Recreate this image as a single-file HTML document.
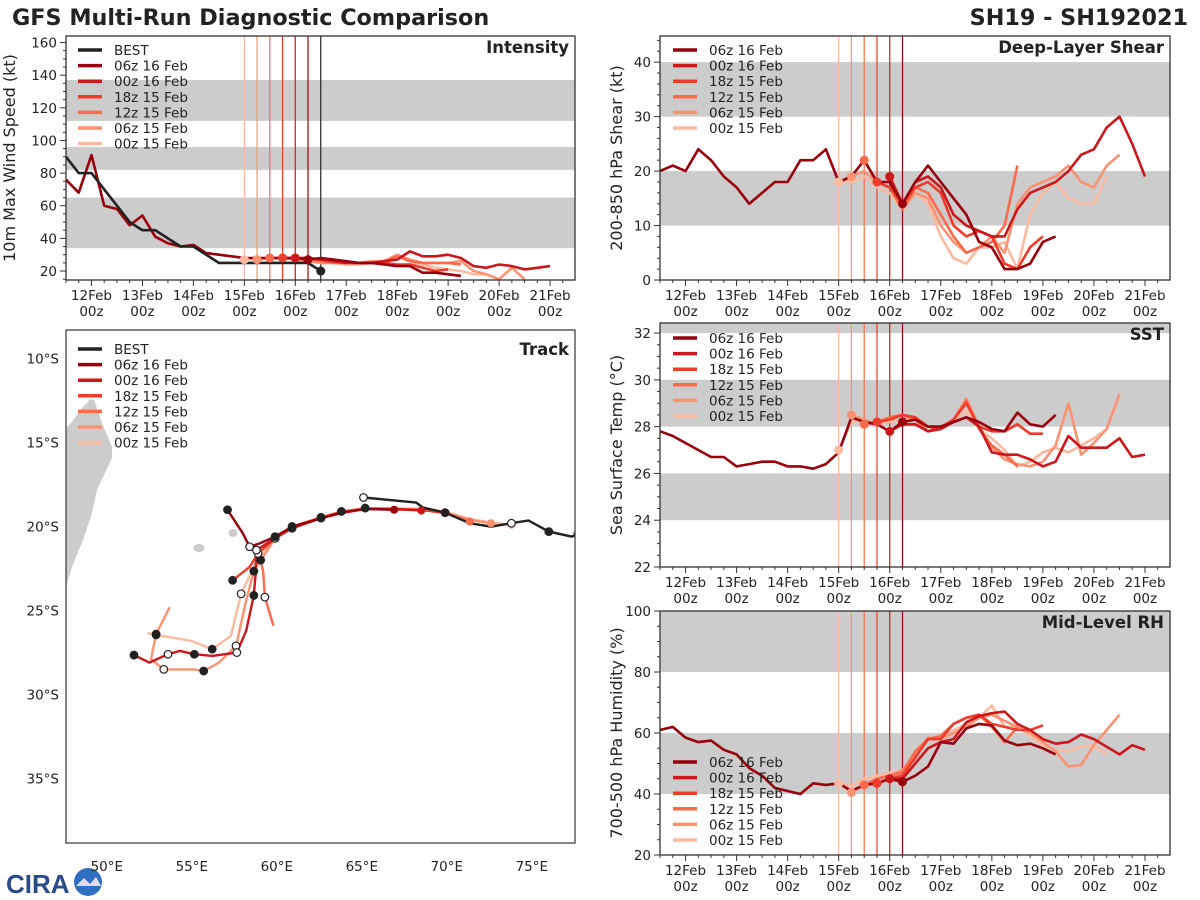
<!DOCTYPE html>
<html><head><meta charset="utf-8">
<style>
html,body{margin:0;padding:0;background:#fff;}
svg{display:block;font-family:"DejaVu Sans","Liberation Sans",sans-serif;}
</style></head>
<body>
<svg id="chart" width="1200" height="900" viewBox="0 0 1200 900" xmlns="http://www.w3.org/2000/svg">
<text x="12" y="25" font-size="22.3" font-weight="bold" fill="#222">GFS Multi-Run Diagnostic Comparison</text>
<text x="1188" y="25" font-size="22.3" font-weight="bold" fill="#222" text-anchor="end">SH19 - SH192021</text>
<g>
<text x="6" y="893" font-size="26" font-weight="bold" fill="#2a4a8a" font-family="Liberation Sans, sans-serif">CIRA</text>
<circle cx="88" cy="882" r="14" fill="#2f6fc0"/>
<path d="M76 886 L84 878 L90 884 L96 877 L101 886 Z" fill="#dde"/>
</g>
</svg>
<script>
// ---------- time-series data (t0 = day-of-Feb, values every 6 h) ----------
const runNames = ["06z 16 Feb","00z 16 Feb","18z 15 Feb","12z 15 Feb","06z 15 Feb","00z 15 Feb"];
const runInit = [16.25,16.0,15.75,15.5,15.25,15.0];
const runStart = [11.5,16.0,15.75,15.5,15.25,15.0];
const runColors = ["#99000d","#cb181d","#ef3b2c","#fb6a4a","#fc9272","#fcbba1"];

const bestStart = 11.5;
const bestWind = [90,80,80,70,60,50,45,45,40,35,35,30,25,25,25,25,25,25,25,25,20];
const windRun0 = [76,68,91,60,58,48,54,41,37,35,36,31,30,29,28,28,28,28,28,27,28,27,26,25,25,24,23,23,19,19,18,17];
const windRun1 = [28,28,27,26,25,25,25,26,27,32,29,29,30,28,23,22,24,23,21,22,23];
const windRun2 = [28,28,28,27,26,25,25,25,25,24,24,22,20,21];
const windRun3 = [28,28,28,27,26,25,25,25,25,26,29,26,25,25,25,24];
const windRun4 = [27,28,28,27,26,25,25,25,25,26,26,30,27,25,25,25,26,20,18,15,22,15];
const windRun5 = [27,28,28,28,27,26,25,25,24,24,25,25,24,24,24,22,21,20,18,18,15];

const shearRun0 = [20,21,20,24,22,19,17,14,16,18,18,22,22,24,18,19,22,18,18,14,18,21,18,15,12,7,6,2,2,3,7,8];
const shearRun1 = [19,14,18,19,17,12,10,9,8,8,13,16,17,18,20,23,24,28,30,25,19];
const shearRun2 = [18,17,14,17,18,16,10,8,9,8,3,2,6,8];
const shearRun3 = [22,18,17,13,17,16,12,8,5,6,7,10,21];
const shearRun4 = [19,20,18,17,13,16,15,10,7,5,6,8,5,14,17,18,19,21,18,17,21,23];
const shearRun5 = [18,18,19,17,16,13,16,14,8,4,3,6,6,7,2,12,16,18,15,14,14,19];

const sstRun0 = [27.8,27.6,27.3,27.0,26.7,26.7,26.3,26.4,26.5,26.5,26.3,26.3,26.2,26.4,26.9,28.4,28.2,28.1,27.8,28.2,28.3,28.0,28.0,28.2,28.4,28.2,27.9,27.8,28.6,28.1,28.0,28.5];
const sstRun1 = [27.8,28.1,28.1,27.8,27.9,28.2,28.4,28.0,26.9,26.8,26.8,26.6,26.3,26.5,27.6,27.1,27.1,27.1,27.5,26.7,26.8];
const sstRun2 = [28.2,28.3,28.5,28.4,28.0,27.9,28.3,29.0,28.0,27.8,27.8,28.1,27.7,27.7];
const sstRun3 = [28.1,28.2,28.4,28.5,28.3,27.8,28.0,28.3,29.1,27.9,27.2,26.8,26.3];
const sstRun4 = [28.5,28.3,28.1,28.4,28.5,28.3,27.8,28.0,28.3,29.2,28.0,27.1,26.6,26.4,26.3,26.5,27.2,29.0,26.8,27.3,27.9,29.4];
const sstRun5 = [27.0,28.2,28.3,28.1,28.2,28.3,28.3,28.0,27.9,28.2,28.7,27.9,27.5,27.0,26.3,26.5,26.9,27.1,26.9,27.2,27.5,27.9];

const rhRun0 = [61,62,58.5,57,57.5,54.5,53,48.5,46,42,41,40,43.5,43,43.5,41,43,43.5,45,44,46,49,57,56.5,61.5,63,62.5,57.5,56,56.5,55,53];
const rhRun1 = [45,45,50,55,57,58,63.5,65.5,66.5,67,63,61,58,56.5,57,59.5,58,55.5,53,56,54.5];
const rhRun2 = [43.5,45,46,52,58,58,63,65,66,63,62,61,61,62.5];
const rhRun3 = [43,45,46,47,54,58,59,63,65,66,62,57,62];
const rhRun4 = [40.5,43,45,46,48,53,58.5,58,60,62,65,66,64,62,60,57,54,49,49.5,56,61,66];
const rhRun5 = [43.5,42.5,45,46,47,47,52,58,58,61,63,65,69,62,62,59,56,54.5,54,55.5,56,53];

const dayTicks = [12,13,14,15,16,17,18,19,20,21];
const dayLabels = ["12Feb","13Feb","14Feb","15Feb","16Feb","17Feb","18Feb","19Feb","20Feb","21Feb"];

// ---------- track data (lon °E, lat °S) ----------
const bestLon = [77.7,77.35,76.0,74.8,73.8,72.6,71.35,69.9,68.6,68.2,65.1];
const bestLat = [20.48,20.6,20.3,19.64,19.8,20.0,19.8,19.17,18.87,18.57,18.27];
const trkLon0 = [66.9,65.2,63.8,62.6,60.9,59.9,59.0,58.4,58.0,57.1];
const trkLat0 = [19.0,18.95,19.15,19.5,20.0,20.6,21.0,21.2,20.4,19.0];
const trkLon1 = [68.5,67.0,65.2,63.8,62.6,60.9,59.9,58.8,58.75,58.65,58.2,57.65,56.2,55.15,54.3,53.6,52.5,51.6];
const trkLat1 = [19.05,18.95,18.95,19.2,19.5,20.1,20.7,21.4,22.9,24.1,26.2,27.5,27.7,27.6,27.4,27.6,28.1,27.65];
const trkLon2 = [69.9,68.5,65.2,63.8,62.6,60.9,59.9,58.9,58.4,57.4];
const trkLat2 = [19.2,19.0,18.95,19.2,19.5,20.0,20.7,21.6,22.4,23.2];
const trkLon3 = [71.35,69.9,68.5,65.2,63.8,62.6,60.9,59.9,59.0,59.05,59.2,59.3,59.8];
const trkLat3 = [19.7,19.2,19.0,18.95,19.15,19.5,20.0,20.7,21.5,22.0,22.7,24.2,25.9];
const trkLon4 = [72.6,71.35,69.9,68.5,65.2,63.8,62.6,60.9,59.9,58.65,58.2,57.6,56.6,55.7,55.15,53.35,52.6,52.9,53.7];
const trkLat4 = [19.8,19.6,19.15,18.95,18.9,19.1,19.45,20.0,20.7,22.65,24.4,27.1,28.1,28.6,28.5,28.5,27.9,26.4,24.8];
const trkLon5 = [73.8,72.6,71.35,69.9,68.5,65.2,63.8,62.6,60.9,59.9,58.75,57.9,57.3,56.2,54.95,52.9,52.4];
const trkLat5 = [19.9,19.75,19.55,19.1,18.95,18.9,19.1,19.45,20.0,20.7,22.2,24.0,26.5,27.3,26.8,26.45,26.35];

const NS="http://www.w3.org/2000/svg";
const svg=document.getElementById('chart');
function mk(tag,attrs,parent){const e=document.createElementNS(NS,tag);for(const k in attrs)e.setAttribute(k,attrs[k]);(parent||svg).appendChild(e);return e;}
function txt(s,attrs,parent){const e=mk('text',attrs,parent);e.textContent=s;return e;}

const windRuns=[windRun0,windRun1,windRun2,windRun3,windRun4,windRun5];
const shearRuns=[shearRun0,shearRun1,shearRun2,shearRun3,shearRun4,shearRun5];
const sstRuns=[sstRun0,sstRun1,sstRun2,sstRun3,sstRun4,sstRun5];
const rhRuns=[rhRun0,rhRun1,rhRun2,rhRun3,rhRun4,rhRun5];

function valAt(arr,start,t){const i=Math.round((t-start)/0.25);return (i>=0&&i<arr.length)?arr[i]:null;}

function panel(cfg){
  const g=mk('g',{});
  
  
  const X=t=>cfg.L+(t-11.5)/(21.49-11.5)*(cfg.R-cfg.L);
  const Y=v=>cfg.B-(v-cfg.y0)/(cfg.y1-cfg.y0)*(cfg.B-cfg.T);
  const clipId='clip-'+cfg.name;
  const cp=mk('clipPath',{id:clipId},g);mk('rect',{x:cfg.L,y:cfg.T,width:cfg.R-cfg.L,height:cfg.B-cfg.T},cp);
  cfg.bands.forEach(b=>{const y1=Math.max(Y(b[1]),cfg.T),y2=Y(b[0]);
    const r=mk('rect',{x:cfg.L,y:y1,width:cfg.R-cfg.L,height:y2-y1,fill:'#cccccc'},g);
    });
  runInit.forEach((t,i)=>{const l=mk('line',{x1:X(t),x2:X(t),y1:cfg.T,y2:cfg.B,stroke:runColors[i],'stroke-width':1.2},g);
    });
  if(cfg.best){const l=mk('line',{x1:X(16.5),x2:X(16.5),y1:cfg.T,y2:cfg.B,stroke:'#222','stroke-width':1.2},g);
    }
  const lg=mk('g',{'clip-path':'url(#'+clipId+')'},g);
  for(let i=5;i>=0;i--){const arr=cfg.runs[i];const pts=arr.map((v,j)=>X(runStart[i]+j*0.25).toFixed(1)+','+Y(v).toFixed(1)).join(' ');
    const p=mk('polyline',{points:pts,fill:'none',stroke:runColors[i],'stroke-width':2.6,'stroke-linejoin':'round'},lg);
    }
  if(cfg.best){const pts=cfg.best.map((v,j)=>X(bestStart+j*0.25).toFixed(1)+','+Y(v).toFixed(1)).join(' ');
    const p=mk('polyline',{points:pts,fill:'none',stroke:'#222','stroke-width':2.6},lg);
    
    const lt=bestStart+(cfg.best.length-1)*0.25;
    const c=mk('circle',{cx:X(lt),cy:Y(cfg.best[cfg.best.length-1]),r:4.5,fill:'#222'},g);
    }
  for(let i=5;i>=0;i--){const v=valAt(cfg.runs[i],runStart[i],runInit[i]);if(v==null)continue;
    const c=mk('circle',{cx:X(runInit[i]),cy:Y(v),r:4.5,fill:runColors[i]},g);
    }
  const f=mk('rect',{x:cfg.L,y:cfg.T,width:cfg.R-cfg.L,height:cfg.B-cfg.T,fill:'none',stroke:'#333','stroke-width':1.3},g);
  
  for(let t=11.5;t<=21.49;t+=0.25){const maj=Math.abs(t-Math.round(t))<1e-6;
    mk('line',{x1:X(t),x2:X(t),y1:cfg.B,y2:cfg.B+(maj?6:3),stroke:'#333','stroke-width':1},g);}
  dayTicks.forEach((d,k)=>{const a=txt(dayLabels[k],{x:X(d),y:cfg.B+20,'font-size':13.5,'text-anchor':'middle',fill:'#222'},g);
    
    const b=txt('00z',{x:X(d),y:cfg.B+36,'font-size':13.5,'text-anchor':'middle',fill:'#222'},g);
    });
  for(let v=cfg.minorStart;v<=cfg.y1+1e-6;v+=cfg.minor){if(v<cfg.y0-1e-6)continue;
    const maj=Math.abs((v-cfg.majStart)/cfg.major-Math.round((v-cfg.majStart)/cfg.major))<1e-6;
    mk('line',{x1:cfg.L-(maj?6:3),x2:cfg.L,y1:Y(v),y2:Y(v),stroke:'#333','stroke-width':1},g);
    if(maj){const a=txt(String(Math.round(v*10)/10),{x:cfg.L-9,y:Y(v)+5,'font-size':13.5,'text-anchor':'end',fill:'#222'},g);
      }}
  const cy=(cfg.T+cfg.B)/2;
  const yl=txt(cfg.ylabel,{x:cfg.ylx,y:cy,'font-size':16,'text-anchor':'middle',fill:'#222',transform:`rotate(-90 ${cfg.ylx} ${cy})`},g);
  
  const tt=txt(cfg.title,{x:cfg.R-6,y:cfg.T+17,'font-size':16.5,'font-weight':'bold','text-anchor':'end',fill:'#222'},g);
  
  legend(g,cfg.legX,cfg.legY,!!cfg.best);
}
function legend(g,x,y,withBest){
  const lg=mk('g',{},g);
  
  const names=(withBest?['BEST']:[]).concat(runNames);const cols=(withBest?['#222']:[]).concat(runColors);
  names.forEach((n,i)=>{const yy=y+i*15.6;
    const e=mk('g',{},lg);
    mk('line',{x1:x,x2:x+24,y1:yy,y2:yy,stroke:cols[i],'stroke-width':3.5},e);
    txt(n,{x:x+36,y:yy+5,'font-size':13.5,fill:'#222'},e);});
}

panel({name:'intensity-panel',L:66,T:36,R:575,B:280,y0:14.5,y1:164,bands:[[34,65],[82,96],[112,137]],
  runs:windRuns,best:bestWind,major:20,majStart:20,minor:5,minorStart:15,ylabel:'10m Max Wind Speed (kt)',ylx:15,title:'Intensity',legX:78,legY:50});
panel({name:'shear-panel',L:660,T:36,R:1170,B:280,y0:0,y1:44.8,bands:[[10,20],[30,40]],
  runs:shearRuns,major:10,majStart:0,minor:2,minorStart:0,ylabel:'200-850 hPa Shear (kt)',ylx:622,title:'Deep-Layer Shear',legX:673,legY:50});
panel({name:'sst-panel',L:660,T:323,R:1170,B:567,y0:22,y1:32.43,bands:[[24,26],[28,30],[32,33]],
  runs:sstRuns,major:2,majStart:22,minor:0.5,minorStart:22,ylabel:'Sea Surface Temp (°C)',ylx:622,title:'SST',legX:673,legY:338});
panel({name:'rh-panel',L:660,T:611,R:1170,B:855,y0:20,y1:100,bands:[[40,60],[80,100]],
  runs:rhRuns,major:20,majStart:20,minor:5,minorStart:20,ylabel:'700-500 hPa Humidity (%)',ylx:622,title:'Mid-Level RH',legX:673,legY:762});

// ---------- track map ----------
(function(){
  const L=66,T=330,R=575,B=843;
  const X=lon=>L+(lon-47.6)*17, Y=lat=>T+(lat-8.3)*16.8;
  const g=mk('g',{});
  const cp=mk('clipPath',{id:'clip-track'},g);mk('rect',{x:L,y:T,width:R-L,height:B-T},cp);
  const cg=mk('g',{'clip-path':'url(#clip-track)'},g);
  const land=mk('path',{d:'M66 428 L72 422 L80 410 L87 403 L90 399 L94 400 L102 423 L112 447 L112 458 L103 477 L97 490 L92 513 L83 540 L72 567 L67 583 L66 590 Z',fill:'#cccccc'},cg);
  
  const i1=mk('ellipse',{cx:199,cy:548,rx:5.5,ry:4,fill:'#cccccc'},cg);
  const i2=mk('ellipse',{cx:233,cy:533,rx:4.5,ry:4,fill:'#cccccc'},cg);
  const lons=[trkLon0,trkLon1,trkLon2,trkLon3,trkLon4,trkLon5], lats=[trkLat0,trkLat1,trkLat2,trkLat3,trkLat4,trkLat5];
  for(let i=5;i>=0;i--){
    const pts=lons[i].map((v,j)=>X(v).toFixed(1)+','+Y(lats[i][j]).toFixed(1)).join(' ');
    const p=mk('polyline',{points:pts,fill:'none',stroke:runColors[i],'stroke-width':2.4,'stroke-linejoin':'round'},cg);
    
  }
  const bp=bestLon.map((v,j)=>X(v).toFixed(1)+','+Y(bestLat[j]).toFixed(1)).join(' ');
  const bl=mk('polyline',{points:bp,fill:'none',stroke:'#222','stroke-width':2.4},cg);
  
  for(let i=5;i>=0;i--){
    lons[i].forEach((v,j)=>{ if(j<5||j%2===0) return;
      const c=mk('circle',{cx:X(v),cy:Y(lats[i][j]),r:3.8,fill:(j%4===1)?'#222':'#fff',stroke:'#222','stroke-width':1.2},cg);
      });
    const s=mk('circle',{cx:X(lons[i][0]),cy:Y(lats[i][0]),r:4,fill:runColors[i]},cg);
    
  }
  [0,2,4,7,10].forEach((j,k)=>{const c=mk('circle',{cx:X(bestLon[j]),cy:Y(bestLat[j]),r:3.8,fill:(k%2)?'#222':'#fff',stroke:'#222','stroke-width':1.2},cg);
    });
  const f=mk('rect',{x:L,y:T,width:R-L,height:B-T,fill:'none',stroke:'#444','stroke-width':1.3},g);
  
  [50,55,60,65,70,75].forEach(lon=>{const a=txt(lon+'°E',{x:X(lon),y:B+28,'font-size':13.5,'text-anchor':'middle',fill:'#222'},g);
    });
  [10,15,20,25,30,35].forEach(lat=>{const a=txt(lat+'°S',{x:L-7,y:Y(lat)+5,'font-size':13.5,'text-anchor':'end',fill:'#222'},g);
    });
  const tt=txt('Track',{x:R-6,y:T+25,'font-size':16.5,'font-weight':'bold','text-anchor':'end',fill:'#222'},g);
  
  legend(g,78,349,true);
})();
</script>
</body></html>
